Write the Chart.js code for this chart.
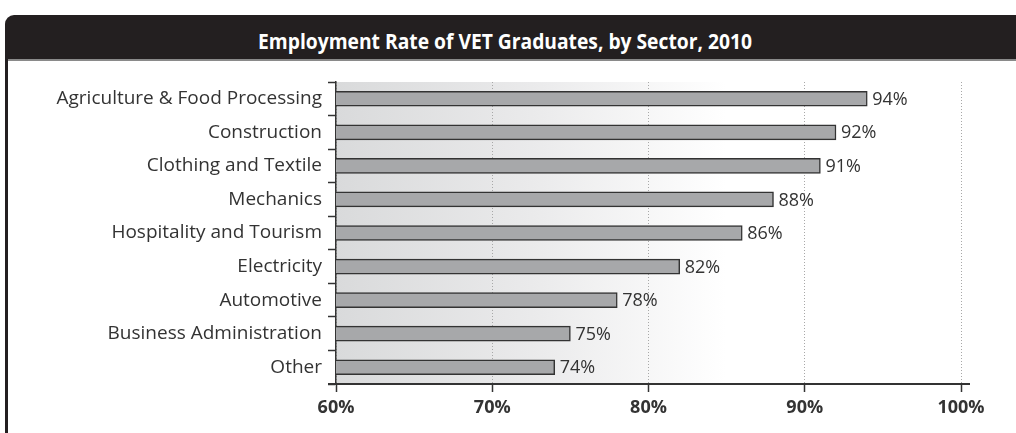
<!DOCTYPE html>
<html>
<head>
<meta charset="utf-8">
<script src="https://cdn.jsdelivr.net/npm/chart.js@4"></script>
<style>
html,body{margin:0;padding:0;background:#fff;width:1016px;height:433px;overflow:hidden;}
#titlebar{position:absolute;left:5px;top:15px;width:1020px;height:44px;background:#231f20;border-top-left-radius:9px;}
#titlebar span{position:absolute;left:0;top:0;width:1000px;text-align:center;color:#fff;font-family:"Open Sans",sans-serif;font-weight:bold;font-size:22px;line-height:50px;transform:scaleX(0.875);transform-origin:500px 0;}
#rule{position:absolute;left:5px;top:59px;width:1011px;height:2px;background:#8a8a8a;}
#leftline{position:absolute;left:5px;top:59px;width:3px;height:380px;background:#231f20;}
#wrap{position:absolute;left:0;top:0;width:1016px;height:433px;}
</style>
</head>
<body>
<div id="titlebar"><span>Employment Rate of VET Graduates, by Sector, 2010</span></div>
<div id="rule"></div>
<div id="leftline"></div>
<div id="wrap"><canvas id="c" width="1016" height="433"></canvas></div>
<script>
const categories = ["Agriculture & Food Processing","Construction","Clothing and Textile","Mechanics","Hospitality and Tourism","Electricity","Automotive","Business Administration","Other"];
const rates = [94, 92, 91, 88, 86, 82, 78, 75, 74];
const xTicks = [60, 70, 80, 90, 100];

const bgPlugin = {
  id: 'bg',
  beforeDraw(chart) {
    const {ctx, chartArea: a} = chart;
    const g = ctx.createLinearGradient(a.left, 0, a.left + 390, 0);
    g.addColorStop(0, '#d9dadb');
    g.addColorStop(0.5, '#eaeaeb');
    g.addColorStop(1, '#ffffff');
    ctx.save();
    ctx.fillStyle = g;
    ctx.fillRect(a.left, a.top, 390, a.bottom - a.top);
    ctx.restore();
  },
  afterDatasetsDraw(chart) {
    const {ctx} = chart;
    const meta = chart.getDatasetMeta(0);
    ctx.save();
    ctx.font = '18px "Open Sans"';
    ctx.fillStyle = '#333';
    ctx.textBaseline = 'middle';
    meta.data.forEach((bar, i) => {
      ctx.fillText(rates[i] + '%', bar.x + 5, bar.y + 1);
    });
    ctx.restore();
  },
  afterDraw(chart) {
    const {ctx, chartArea: a} = chart;
    ctx.save();
    ctx.strokeStyle = '#333';
    ctx.lineWidth = 2;
    ctx.beginPath();
    ctx.moveTo(a.left - 8, a.bottom);
    ctx.lineTo(a.right + 9, a.bottom);
    ctx.stroke();
    ctx.restore();
  }
};

new Chart(document.getElementById('c'), {
  type: 'bar',
  data: {
    labels: categories,
    datasets: [{
      data: rates,
      backgroundColor: '#a7a8aa',
      borderColor: '#333333',
      borderWidth: 1.5,
      borderSkipped: false,
      barThickness: 15
    }]
  },
  options: {
    indexAxis: 'y',
    responsive: false,
    animation: false,
    layout: {padding: {top: 82, right: 55, left: 0, bottom: 0}},
    plugins: {legend: {display: false}, tooltip: {enabled: false}, title: {display: false}},
    scales: {
      x: {
        min: 60, max: 100,
        afterBuildTicks(scale) { scale.ticks = xTicks.map(v => ({value: v})); },
        afterFit(scale) { scale.height = 49; },
        ticks: {
          callback: v => v + '%',
          font: {family: '"Open Sans"', size: 18, weight: 'bold'},
          color: '#333',
          padding: 5,
          maxRotation: 0
        },
        grid: {
          color: '#a8a8a8',
          lineWidth: 1,
          tickColor: '#333',
          tickBorderDash: [],
          tickLength: 8,
          tickWidth: 1.5
        },
        border: {display: true, color: '#333', width: 2, dash: [1, 2]}
      },
      y: {
        afterFit(scale) { scale.width = 336; },
        ticks: {
          font: {family: '"Open Sans"', size: 19},
          color: '#333',
          padding: 6
        },
        grid: {
          offset: true,
          drawOnChartArea: false,
          tickLength: 8,
          tickColor: '#333',
          tickWidth: 1.5
        },
        border: {display: true, color: '#333', width: 1.5}
      }
    }
  },
  plugins: [bgPlugin]
});
</script>
</body>
</html>
